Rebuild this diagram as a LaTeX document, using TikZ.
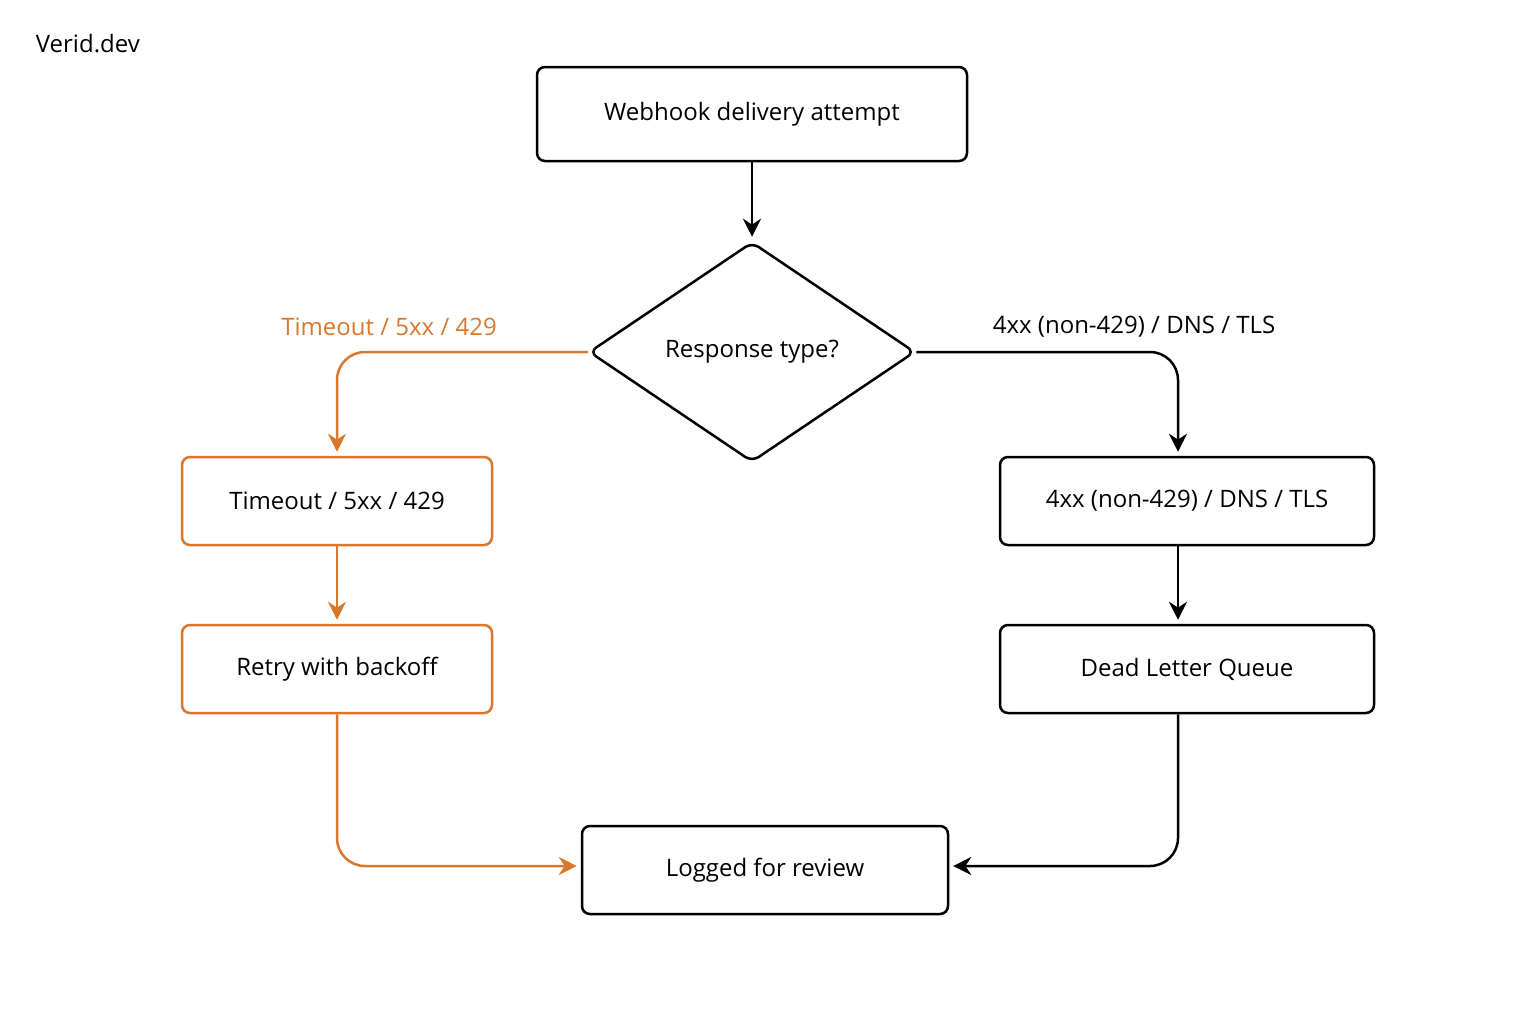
\documentclass[tikz,border=0pt]{standalone}
\usepackage{fontspec}
\setmainfont{Open Sans}
\usetikzlibrary{shapes.geometric,arrows.meta}
\definecolor{warm}{HTML}{D9782D}
\begin{document}
\begin{tikzpicture}[x=0.5pt,y=-0.5pt,line width=1.25pt,
        box/.style={draw, rounded corners=4pt, inner sep=0pt, font=\large},
        dec/.style={draw, diamond, rounded corners=4pt, inner sep=0pt,
                        minimum width=163pt, minimum height=110pt, font=\large},
        link/.style={-{Stealth[length=9pt,width=9pt]}, rounded corners=14pt, shorten >=2pt},
        lab/.style={font=\large}]
    \useasboundingbox (0,0) rectangle (1536,1024);
    \node[anchor=west,font=\large] (brand) at (28,44) {Verid.dev};
    \node[box, minimum width=215pt, minimum height=47pt] (attempt) at (752,114) {Webhook delivery attempt};
    \node[dec] (kind) at (752,352) {Response type?};
    \node[box, draw=warm, minimum width=155pt, minimum height=44pt] (transient) at (337,501) {Timeout / 5xx / 429};
    \node[box, draw=warm, minimum width=155pt, minimum height=44pt] (retry) at (337,669) {Retry with backoff};
    \node[box, minimum width=187pt, minimum height=44pt] (permanent) at (1187,501) {4xx (non-429) / DNS / TLS};
    \node[box, minimum width=187pt, minimum height=44pt] (dlq) at (1187,669) {Dead Letter Queue};
    \node[box, minimum width=183pt, minimum height=44pt] (logged) at (765,870) {Logged for review};
    \node[lab, text=warm] (tlab) at (389,327) {Timeout / 5xx / 429};
    \node[lab] (plab) at (1134,327) {4xx (non-429) / DNS / TLS};
    % connectors
    \draw[link] (attempt) -- (kind);
    \draw[link, warm] (kind.west) -| (transient.north);
    \draw[link, warm] (transient) -- (retry);
    \draw[link, warm] (retry.south) |- ([yshift=2pt]logged.west);
    \draw[link] (kind.east) -| ([xshift=-4.5pt]permanent.north);
    \draw[link] ([xshift=-4.5pt]permanent.south) -- ([xshift=-4.5pt]dlq.north);
    \draw[link] ([xshift=-4.5pt]dlq.south) |- ([yshift=2pt]logged.east);
\end{tikzpicture}
\end{document}
